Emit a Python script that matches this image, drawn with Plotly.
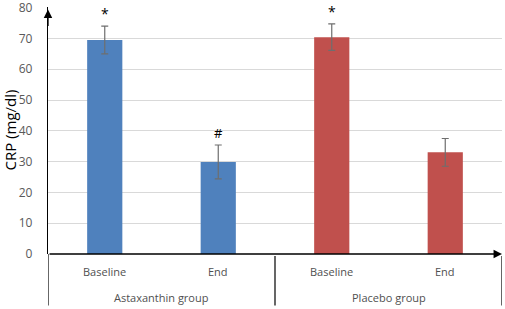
import plotly.graph_objects as go

groups = ["Astaxanthin group", "Placebo group"]
timepoints = ["Baseline", "End", "Baseline", "End"]
crp_values = [69.5, 29.9, 70.4, 33.0]
crp_errors = [4.5, 5.5, 4.3, 4.5]
signif = ["*", "#", "*", ""]
bar_colors = ["#4f81bd", "#4f81bd", "#c0504d", "#c0504d"]
y_ticks = [0, 10, 20, 30, 40, 50, 60, 70, 80]

FONT = "Open Sans"
xs = list(range(len(crp_values)))

fig = go.Figure()
fig.add_trace(go.Bar(
    x=xs, y=crp_values, width=0.31,
    marker=dict(color=bar_colors, line=dict(width=0)),
    error_y=dict(type="data", array=crp_errors, color="#6e6e6e", thickness=1.2, width=3.5),
    showlegend=False, hoverinfo="skip",
))

annotations = []
for x, v, e, s in zip(xs, crp_values, crp_errors, signif):
    if s:
        annotations.append(dict(x=x, y=v + e, xref="x", yref="y", text=s, showarrow=False,
                                yanchor="bottom", yshift=1,
                                font=dict(family=FONT, size=14 if s == "*" else 13, color="#000000")))
for x, t in zip(xs, timepoints):
    annotations.append(dict(x=x, y=0, xref="x", yref="paper", text=t, showarrow=False,
                            yanchor="middle", yshift=-17,
                            font=dict(family=FONT, size=11, color="#505050")))
for i, g in enumerate(groups):
    annotations.append(dict(x=2 * i + 0.5, y=0, xref="x", yref="paper", text=g, showarrow=False,
                            yanchor="middle", yshift=-43,
                            font=dict(family=FONT, size=11, color="#505050")))
# y-axis title
annotations.append(dict(x=0, y=0.5, xref="paper", yref="paper", text="CRP (mg/dl)", textangle=-90,
                        showarrow=False, xanchor="center", yanchor="middle", xshift=-39,
                        font=dict(family=FONT, size=15, color="#000000")))
# axis arrowheads
annotations.append(dict(x=0, y=80, xref="paper", yref="y", ax=0, ay=20, axref="pixel", ayref="pixel",
                        text="", showarrow=True, arrowhead=2, arrowsize=1.3, arrowwidth=1.3,
                        arrowcolor="#000000", standoff=2))
annotations.append(dict(x=3.5, y=0, xref="x", yref="y", ax=-0.5, ay=0, axref="x", ayref="y",
                        text="", showarrow=True, arrowhead=2, arrowsize=1.3, arrowwidth=1.3,
                        arrowcolor="#000000", standoff=0))

shapes = []
for xv, y0 in [(-0.5, 0), (1.5, -0.008), (3.5, -0.008)]:
    shapes.append(dict(type="line", xref="x", yref="paper", x0=xv, x1=xv, y0=y0, y1=-0.208,
                       line=dict(color="#000000", width=1.2)))

fig.update_layout(
    width=505, height=309,
    margin=dict(l=48, r=3, t=7, b=55, autoexpand=False),
    paper_bgcolor="white", plot_bgcolor="white",
    hovermode=False,
    xaxis=dict(range=[-0.5, 3.5], showticklabels=False, showgrid=False, zeroline=False,
               showline=False, ticks=""),
    yaxis=dict(range=[0, 80.2], tickvals=y_ticks, showgrid=True, gridcolor="#d9d9d9", gridwidth=1,
               zeroline=False, showline=True, linecolor="#000000", linewidth=1.3,
               ticks="", ticklabelstandoff=12,
               ticklabeloverflow="allow",
               tickfont=dict(family=FONT, size=12, color="#595959")),
    annotations=annotations,
    shapes=shapes,
)

fig.write_html("out.html", config={"displayModeBar": False},
               post_script="document.body.style.margin='0';document.body.style.overflow='hidden';")
